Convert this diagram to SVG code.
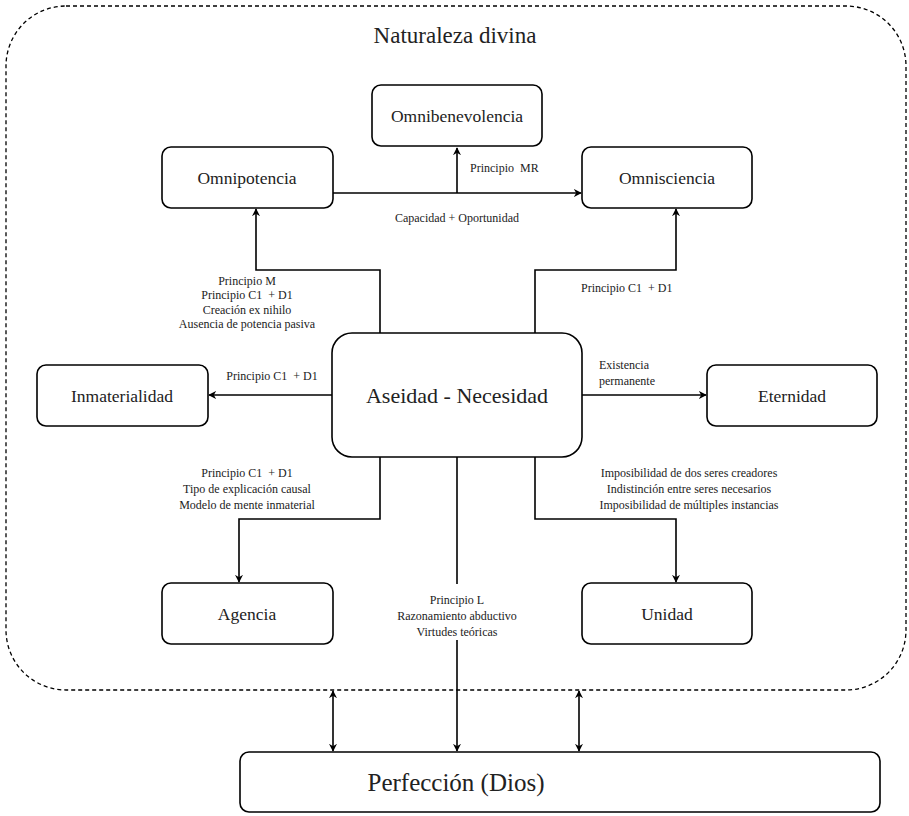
<svg xmlns="http://www.w3.org/2000/svg" width="909" height="816" viewBox="0 0 909 816">
<defs>
<marker id="ah" viewBox="0 0 10 10" refX="9" refY="5" markerWidth="8" markerHeight="8" markerUnits="userSpaceOnUse" orient="auto-start-reverse">
<path d="M0,0 L10,5 L0,10 L3,5 Z" fill="#000"/>
</marker>
</defs>
<style>
.box{fill:#fff;stroke:#000;stroke-width:1.6}
.ln{fill:none;stroke:#000;stroke-width:1.6}
.t{font-family:"Liberation Serif","DejaVu Serif",serif;fill:#222;text-anchor:middle}
.n{font-size:17.5px}
.s{font-size:12px}
.l{text-anchor:start}
</style>
<rect x="6" y="6" width="900" height="684" rx="60" ry="60" fill="none" stroke="#000" stroke-width="1.3" stroke-dasharray="4,3"/>
<text class="t" x="455" y="43" font-size="23">Naturaleza divina</text>

<g id="connectors">
<path class="ln" d="M333,193 H581" marker-end="url(#ah)"/>
<path class="ln" d="M457,193 V148" marker-end="url(#ah)"/>
<path class="ln" d="M380,333 V270 H256 V209" marker-end="url(#ah)"/>
<path class="ln" d="M535,333 V270 H676 V209" marker-end="url(#ah)"/>
<path class="ln" d="M332,395 H209" marker-end="url(#ah)"/>
<path class="ln" d="M582,395 H706" marker-end="url(#ah)"/>
<path class="ln" d="M380,457 V519 H239 V582" marker-end="url(#ah)"/>
<path class="ln" d="M535,457 V519 H676 V582" marker-end="url(#ah)"/>
<path class="ln" d="M457,457 V751" marker-end="url(#ah)"/>
<path class="ln" d="M333,691 V751" marker-start="url(#ah)" marker-end="url(#ah)"/>
<path class="ln" d="M579,691 V751" marker-start="url(#ah)" marker-end="url(#ah)"/>
<rect x="390" y="584" width="134" height="56" fill="#fff"/>
<text class="t s l" x="470" y="172">Principio&#160; MR</text>
<text class="t s" x="457" y="222">Capacidad + Oportunidad</text>
<text class="t s" x="247" y="285">Principio M</text>
<text class="t s" x="247" y="299">Principio C1&#160; + D1</text>
<text class="t s" x="247" y="314">Creación ex nihilo</text>
<text class="t s" x="247" y="328">Ausencia de potencia pasiva</text>
<text class="t s l" x="581" y="292">Principio C1&#160; + D1</text>
<text class="t s" x="272" y="380">Principio C1&#160; + D1</text>
<text class="t s l" x="599" y="369">Existencia</text>
<text class="t s l" x="599" y="385">permanente</text>
<text class="t s" x="247" y="477">Principio C1&#160; + D1</text>
<text class="t s" x="247" y="493">Tipo de explicación causal</text>
<text class="t s" x="247" y="509">Modelo de mente inmaterial</text>
<text class="t s" x="689" y="477">Imposibilidad de dos seres creadores</text>
<text class="t s" x="689" y="493">Indistinción entre seres necesarios</text>
<text class="t s" x="689" y="509">Imposibilidad de múltiples instancias</text>
<text class="t s" x="457" y="604">Principio L</text>
<text class="t s" x="457" y="620">Razonamiento abductivo</text>
<text class="t s" x="457" y="636">Virtudes teóricas</text>
</g>

<g id="omnibenevolencia"><rect class="box" x="372" y="85" width="170" height="61" rx="9"/><text class="t n" x="457" y="122">Omnibenevolencia</text></g>
<g id="omnipotencia"><rect class="box" x="162" y="147" width="171" height="61" rx="9"/><text class="t n" x="247" y="184">Omnipotencia</text></g>
<g id="omnisciencia"><rect class="box" x="582" y="147" width="170" height="61" rx="9"/><text class="t n" x="667" y="184">Omnisciencia</text></g>
<g id="aseidad"><rect class="box" x="332" y="333" width="250" height="124" rx="20"/><text class="t" x="457" y="403" font-size="22">Aseidad - Necesidad</text></g>
<g id="inmaterialidad"><rect class="box" x="37" y="365" width="171" height="61" rx="9"/><text class="t n" x="122" y="402">Inmaterialidad</text></g>
<g id="eternidad"><rect class="box" x="707" y="365" width="170" height="61" rx="9"/><text class="t n" x="792" y="402">Eternidad</text></g>
<g id="agencia"><rect class="box" x="162" y="583" width="171" height="61" rx="9"/><text class="t n" x="247" y="620">Agencia</text></g>
<g id="unidad"><rect class="box" x="582" y="583" width="170" height="61" rx="9"/><text class="t n" x="667" y="620">Unidad</text></g>
<g id="perfeccion"><rect class="box" x="240" y="752" width="640" height="60" rx="9"/><text class="t" x="456" y="791" font-size="25">Perfección (Dios)</text></g>
</svg>
